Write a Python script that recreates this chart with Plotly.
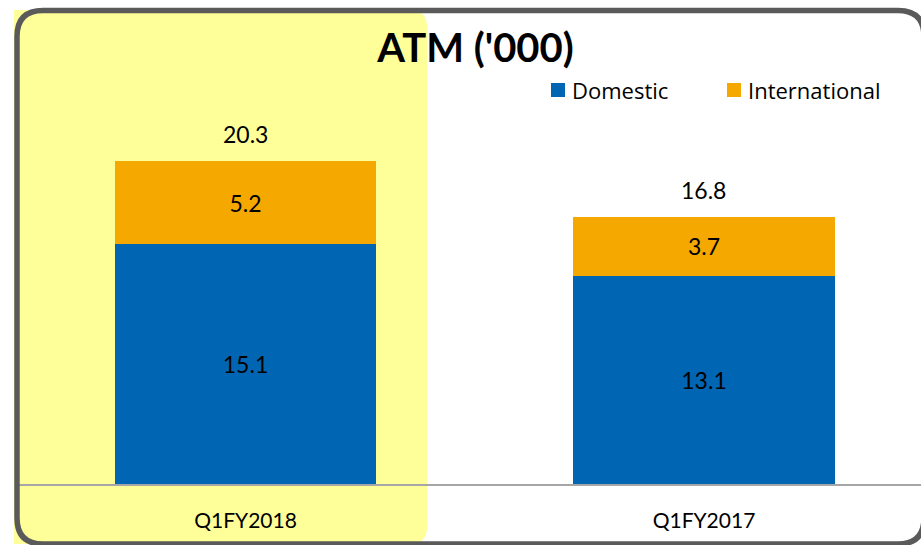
import plotly.graph_objects as go

categories = ["Q1FY2018", "Q1FY2017"]
domestic = [15.1, 13.1]
international = [5.2, 3.7]
totals = [20.3, 16.8]
series_names = ["Domestic", "International"]

FONT = "Lato"
BLUE = "#0066B3"
ORANGE = "#F5A800"

W, H = 921, 545
ML, MR, MT, MB = 19, 0, 100, 61
PW, PH = W - ML - MR, H - MT - MB

def px(x):
    return (x - ML) / PW

def py(y):
    return (H - MB - y) / PH

fig = go.Figure()
for name, vals, col in zip(series_names, [domestic, international], [BLUE, ORANGE]):
    fig.add_trace(go.Bar(
        name=name, x=categories, y=vals, marker_color=col,
        width=0.57, text=[f"{v:.1f}" for v in vals], textposition="inside",
        insidetextanchor="middle", textfont=dict(family=FONT, size=23, color="black"),
        marker_line_width=0, showlegend=False,
    ))

for c, t in zip(categories, totals):
    fig.add_annotation(x=c, y=t, text=f"{t:.1f}", showarrow=False,
                       yanchor="bottom", yshift=11,
                       font=dict(family=FONT, size=23, color="black"))

# legend (squares + labels)
leg_x = [551, 727]
for lx, name, col in zip(leg_x, series_names, [BLUE, ORANGE]):
    fig.add_shape(type="rect", xref="paper", yref="paper",
                  x0=px(lx), x1=px(lx + 14), y0=py(97), y1=py(83),
                  fillcolor=col, line_width=0)
    fig.add_annotation(xref="paper", yref="paper", x=px(lx + 19), y=py(90),
                       xanchor="left", yanchor="middle", text=name, showarrow=False,
                       font=dict(family="Open Sans", size=22, color="black"))

# yellow highlight (left side, rounded right corners)
x0, x1, y0, y1, r = 14, 427, 10, 544, 17
hl = (f"M {px(x0)} {py(y0)} L {px(x1 - r)} {py(y0)} "
      f"Q {px(x1)} {py(y0)} {px(x1)} {py(y0 + r)} "
      f"L {px(x1)} {py(y1 - r)} Q {px(x1)} {py(y1)} {px(x1 - r)} {py(y1)} "
      f"L {px(x0)} {py(y1)} Z")
fig.add_shape(type="path", path=hl, xref="paper", yref="paper",
              fillcolor="#FFFF99", line_width=0, layer="below")

# rounded frame
fx0, fx1, fy0, fy1, fr = 17, 924, 10.5, 544, 26
fp = (f"M {px(fx0)} {py(fy0 + fr)} Q {px(fx0)} {py(fy0)} {px(fx0 + fr)} {py(fy0)} "
      f"L {px(fx1 - fr)} {py(fy0)} Q {px(fx1)} {py(fy0)} {px(fx1)} {py(fy0 + fr)} "
      f"L {px(fx1)} {py(fy1 - fr)} Q {px(fx1)} {py(fy1)} {px(fx1 - fr)} {py(fy1)} "
      f"L {px(fx0 + fr)} {py(fy1)} Q {px(fx0)} {py(fy1)} {px(fx0)} {py(fy1 - fr)} Z")
fig.add_shape(type="path", path=fp, xref="paper", yref="paper",
              line=dict(color="#5A5A5A", width=5.5), fillcolor="rgba(0,0,0,0)",
              layer="above")

fig.update_layout(
    width=W, height=H,
    margin=dict(l=ML, r=MR, t=MT, b=MB, pad=0),
    barmode="stack",
    paper_bgcolor="white",
    plot_bgcolor="rgba(0,0,0,0)",
    font=dict(family=FONT, color="black"),
    title=dict(text="<b>ATM ('000)</b>", x=475.5 / W, xanchor="center",
               y=1 - 48 / H, yanchor="middle", xref="container", yref="container",
               font=dict(family=FONT, size=40, color="black")),
    showlegend=False,
    xaxis=dict(type="category", range=[-0.494, 1.4733], showline=True,
               linecolor="#A6A6A6", linewidth=1.5, ticks="", showgrid=False,
               tickfont=dict(family=FONT, size=21, color="black"),
               ticklabelstandoff=17, zeroline=False),
    yaxis=dict(range=[0, PH / 15.9], visible=False, showgrid=False, zeroline=False),
)

fig.write_html("out.html", config={"displayModeBar": False},
               post_script="document.body.style.margin='0';document.body.style.overflow='hidden';")
